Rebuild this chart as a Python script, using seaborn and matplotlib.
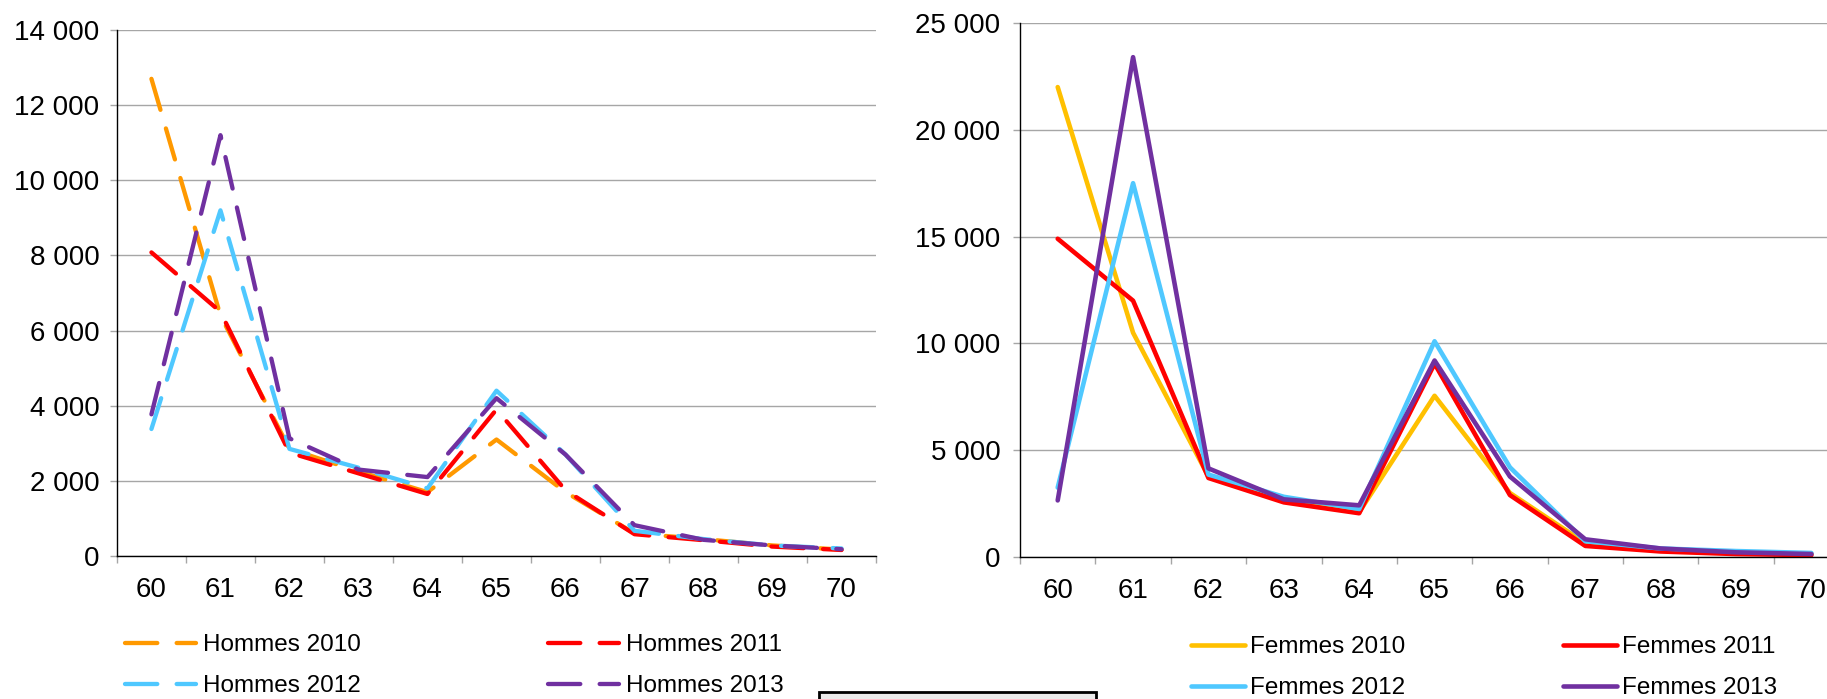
import matplotlib
matplotlib.use("Agg")
import matplotlib.pyplot as plt
import matplotlib.patches as mpatches
from matplotlib.ticker import FuncFormatter, FixedLocator
import seaborn as sns
import pandas as pd

# --- données ---
ages = [60, 61, 62, 63, 64, 65, 66, 67, 68, 69, 70]

hommes_2010 = [12700, 6400, 2850, 2250, 1700, 3100, 1700, 600, 450, 280, 170]
hommes_2011 = [8080, 6500, 2750, 2200, 1650, 3900, 1750, 580, 420, 250, 160]
hommes_2012 = [3380, 9200, 2850, 2350, 1800, 4400, 2700, 670, 450, 280, 200]
hommes_2013 = [3770, 11200, 3130, 2300, 2100, 4200, 2700, 820, 430, 280, 180]

femmes_2010 = [22000, 10500, 3770, 2700, 2100, 7550, 3000, 650, 300, 220, 150]
femmes_2011 = [14900, 12000, 3700, 2560, 2050, 9050, 2900, 520, 260, 140, 90]
femmes_2012 = [3250, 17500, 3860, 2820, 2250, 10100, 4200, 740, 400, 280, 190]
femmes_2013 = [2650, 23400, 4150, 2700, 2420, 9200, 3770, 830, 400, 220, 140]

hommes_labels = ["Hommes 2010", "Hommes 2011", "Hommes 2012", "Hommes 2013"]
femmes_labels = ["Femmes 2010", "Femmes 2011", "Femmes 2012", "Femmes 2013"]
hommes_colors = ["#FF9900", "#FF0000", "#4FC8FF", "#7030A0"]
femmes_colors = ["#FFC000", "#FF0000", "#4FC8FF", "#7030A0"]

sns.set_theme(style="white")
plt.rcParams["font.family"] = ["Liberation Sans", "DejaVu Sans"]
plt.rcParams["text.color"] = "black"

fig = plt.figure(figsize=(18.27, 6.99), dpi=100)
ax_h = fig.add_axes([0.0640, 0.2046, 0.4155, 0.7525])
ax_f = fig.add_axes([0.5583, 0.2031, 0.4538, 0.7640])


def sep(v, pos):
    return f"{int(v):,}".replace(",", " ")


def style_axes(ax, ymax, ystep, ypad):
    ax.set_xlim(59.5, 70.5)
    ax.set_ylim(0, ymax)
    ax.set_yticks(range(0, ymax + 1, ystep))
    ax.yaxis.set_major_formatter(FuncFormatter(sep))
    ax.set_xticks(ages)
    ax.set_xticklabels([str(a) for a in ages])
    ax.xaxis.set_minor_locator(FixedLocator([a - 0.5 for a in ages] + [70.5]))
    ax.grid(axis="y", color="#A6A6A6", lw=1.0)
    ax.grid(axis="x", visible=False)
    for s in ["top", "right"]:
        ax.spines[s].set_visible(False)
    for s in ["left", "bottom"]:
        ax.spines[s].set_color("black")
        ax.spines[s].set_linewidth(1.0)
    ax.tick_params(axis="x", which="major", length=0, pad=15,
                   labelsize=20, labelcolor="black")
    ax.tick_params(axis="x", which="minor", length=5, width=1,
                   color="#A6A6A6", direction="out", bottom=True)
    ax.tick_params(axis="y", which="major", length=5, width=1,
                   color="#A6A6A6", direction="out", left=True, pad=ypad,
                   labelsize=20, labelcolor="black")
    ax.set_xlabel("")
    ax.set_ylabel("")
    ax.set_axisbelow(True)


# --- hommes (tirets longs) ---
for vals, lab, col in zip([hommes_2010, hommes_2011, hommes_2012, hommes_2013],
                          hommes_labels, hommes_colors):
    df = pd.DataFrame({"age": ages, "n": vals})
    sns.lineplot(data=df, x="age", y="n", ax=ax_h, color=col, lw=3.1,
                 label=lab, legend=False)
    ax_h.lines[-1].set_dashes((7.5, 4.5))
    ax_h.lines[-1].set_dash_capstyle("round")

# --- femmes (traits pleins) ---
for vals, lab, col in zip([femmes_2010, femmes_2011, femmes_2012, femmes_2013],
                          femmes_labels, femmes_colors):
    df = pd.DataFrame({"age": ages, "n": vals})
    sns.lineplot(data=df, x="age", y="n", ax=ax_f, color=col, lw=3.3,
                 label=lab, legend=False)
    ax_f.lines[-1].set_solid_capstyle("round")

style_axes(ax_h, 14000, 2000, 7.5)
style_axes(ax_f, 25000, 5000, 9.0)

# légendes en lignes : 2010 / 2011 puis 2012 / 2013
order = [0, 2, 1, 3]

h_h, l_h = ax_h.get_legend_handles_labels()
fig.legend([h_h[i] for i in order], [l_h[i] for i in order], ncol=2,
           loc="upper left", bbox_to_anchor=(125 / 1827, 1 - 634 / 699),
           frameon=False, fontsize=17.5, handlelength=2.92,
           handletextpad=0.28, columnspacing=7.7, labelspacing=0.8,
           borderpad=0, borderaxespad=0)

h_f, l_f = ax_f.get_legend_handles_labels()
fig.legend([h_f[i] for i in order], [l_f[i] for i in order], ncol=2,
           loc="upper left", bbox_to_anchor=(1191 / 1827, 1 - 636 / 699),
           frameon=False, fontsize=17.5, handlelength=2.22,
           handletextpad=0.2, columnspacing=6.5, labelspacing=0.8,
           borderpad=0, borderaxespad=0)

# petit cadre en bas (coupé par le bord)
fig.patches.append(mpatches.Rectangle((819 / 1827, -0.05), 277 / 1827, 0.06,
                                      transform=fig.transFigure,
                                      facecolor="#EBEBEB", edgecolor="black",
                                      lw=2))

fig.savefig("out.png", dpi=100)
